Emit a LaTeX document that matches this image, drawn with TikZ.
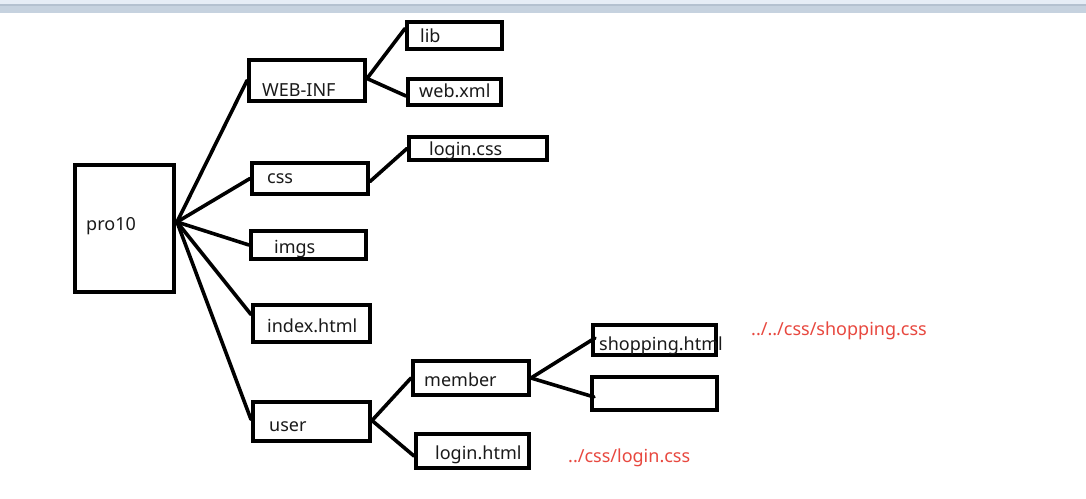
\documentclass[tikz,border=0pt]{standalone}
\usepackage{fontspec}
\setmainfont{Noto Sans}
\usetikzlibrary{calc}
\definecolor{redtxt}{HTML}{E8483F}
\definecolor{txt}{HTML}{1A1A1A}
\definecolor{barlight}{HTML}{E6EDF6}
\definecolor{barline}{HTML}{B4C1D0}
\definecolor{barmid}{HTML}{C6D2DF}
\tikzset{
  box/.style={draw=black, line width=4pt, rectangle, inner sep=0pt, fill=none},
  lbl/.style={anchor=base west, inner sep=0pt, text=txt, font=\fontsize{18}{20}\selectfont},
  note/.style={anchor=base west, inner sep=0pt, text=redtxt, font=\fontsize{18}{20}\selectfont},
  link/.style={draw=black, line width=3.6pt, line cap=round}
}
\begin{document}
\begin{tikzpicture}[x=1pt, y=-1pt]
\useasboundingbox (0,0) rectangle (1086,498);
\fill[white] (0,0) rectangle (1086,498);
% top window bar
\fill[barlight] (0,0) rectangle (1086,4);
\fill[barmid] (0,4) rectangle (1086,13);
\fill[barline] (0,4) rectangle (1086,5.5);

% boxes
\node[box, minimum width=99pt, minimum height=127pt] (pro) at (124.5,228.5) {};
\node[box, minimum width=116pt, minimum height=41pt] (web) at (307,80.5) {};
\node[box, minimum width=95pt, minimum height=27pt] (lib) at (454.5,35.5) {};
\node[box, minimum width=93pt, minimum height=26pt] (xml) at (454.5,92) {};
\node[box, minimum width=138pt, minimum height=23pt] (lcss) at (478,148.5) {};
\node[box, minimum width=116pt, minimum height=31pt] (css) at (310,178.5) {};
\node[box, minimum width=115pt, minimum height=28pt] (imgs) at (308.5,245) {};
\node[box, minimum width=117pt, minimum height=37pt] (index) at (311.5,323.5) {};
\node[box, minimum width=117pt, minimum height=39pt] (user) at (311.5,421.5) {};
\node[box, minimum width=116pt, minimum height=34pt] (member) at (471,378) {};
\node[box, minimum width=113pt, minimum height=34pt] (lhtml) at (472.5,451) {};
\node[box, minimum width=123pt, minimum height=30pt] (shop) at (654.5,340) {};
\node[box, minimum width=125pt, minimum height=33pt] (empty) at (654.5,393.5) {};

% labels
\node[lbl] (proT) at (86,230) {pro10};
\node[lbl] (webT) at (262,96) {WEB-INF};
\node[lbl] (libT) at (420,42) {lib};
\node[lbl] (xmlT) at (419,97) {web.xml};
\node[lbl] (lcssT) at (429,155.5) {login.css};
\node[lbl] (cssT) at (267,183) {css};
\node[lbl] (imgsT) at (274,253) {imgs};
\node[lbl] (indexT) at (267,332) {index.html};
\node[lbl] (userT) at (269,431) {user};
\node[lbl] (memberT) at (424,386) {member};
\node[lbl] (lhtmlT) at (435,459) {login.html};
\node[lbl] (shopT) at (599,350) {shopping.html};
\node[note] (n1) at (751,335) {../../css/shopping.css};
\node[note] (n2) at (568,462) {../css/login.css};

% connectors
\coordinate (hub) at (177,222);
\draw[link] (hub) -- (web.west);
\draw[link] (hub) -- (css.west);
\draw[link] (hub) -- (imgs.west);
\draw[link] (hub) -- ([yshift=9pt]index.west);
\draw[link] (hub) -- ([yshift=2pt]user.west);
\draw[link] ([yshift=2pt]web.east) -- ([yshift=7pt]lib.west);
\draw[link] ([yshift=2pt]web.east) -- ([yshift=-4pt]xml.west);
\draw[link] ([yshift=-3pt]css.east) -- (lcss.west);
\draw[link] ([yshift=1pt]user.east) -- (member.west);
\draw[link] ([yshift=1pt]user.east) -- ([yshift=-5pt]lhtml.west);
\draw[link] (member.east) -- ([xshift=4pt,yshift=2pt]shop.west);
\draw[link] (member.east) -- ([xshift=4pt,yshift=-3.5pt]empty.west);
\end{tikzpicture}
\end{document}
